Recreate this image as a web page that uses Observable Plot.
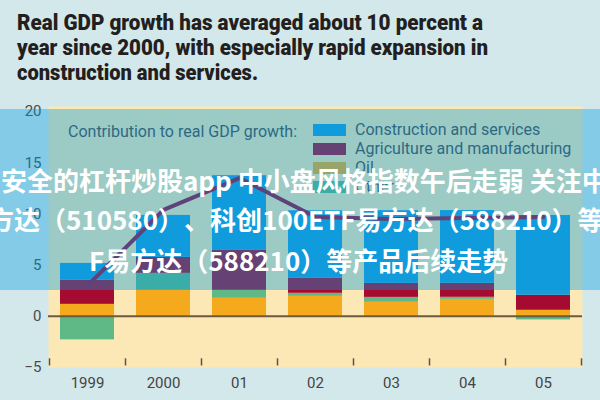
<!DOCTYPE html>
<html><head><meta charset="utf-8">
<script src="https://cdn.jsdelivr.net/npm/d3@7"></script>
<script src="https://cdn.jsdelivr.net/npm/@observablehq/plot@0.6"></script>
<style>
body{margin:0;}
#wrap{position:relative;width:600px;height:400px;background:#d3e8ea;overflow:hidden;font-family:Roboto,"Noto Sans",sans-serif;}
#title{position:absolute;left:17px;top:10px;font-family:Roboto,"Noto Sans",sans-serif;font-weight:900;font-size:21.5px;line-height:25px;color:#231f20;white-space:nowrap;}
#title div{transform-origin:0 50%;width:max-content;}
#chart{position:absolute;left:0;top:0;}
#lg-title{position:absolute;left:68px;top:122px;font-size:16px;color:#4a4a4a;white-space:nowrap;}
.lg{position:absolute;left:313px;font-size:16px;color:#4a4a4a;white-space:nowrap;}
.lg span{display:inline-block;width:33px;height:12px;margin-right:9px;vertical-align:-1px;}
#overlay{position:absolute;left:0;top:109px;width:600px;height:181px;background:rgba(0,155,225,0.38);}
.wm{position:absolute;white-space:nowrap;color:#fff;font-family:"Noto Sans CJK SC",sans-serif;font-weight:bold;font-size:26px;line-height:25px;text-spacing-trim:space-all;font-kerning:none;}
</style></head>
<body>
<div id="wrap">
  <div id="title"></div>
  <div id="chart"></div>
  <div id="legend"></div>
  <div id="overlay"></div>
  <div class="wm" style="left:1px;top:167px">安全的杠杆炒股app 中小盘风格指数午后走弱 关注中</div>
  <div class="wm" style="left:-12px;top:206px">方达（510580）、科创100ETF易方达（588210）等</div>
  <div class="wm" style="left:89px;top:247px">F易方达（588210）等产品后续走势</div>
</div>
<script>
const titleLines = ["Real GDP growth has averaged about 10 percent a", "year since 2000, with especially rapid expansion in", "construction and services."];
const years = ["1999","2000","01","02","03","04","05"];
const seriesNames = ["Oil","Other","Agriculture and manufacturing","Construction and services"];
const oil = [1.17, 2.54, 1.76, 1.95, 1.37, 1.66, 0.59];
const other = [-2.3, 1.66, 0.78, 0.3, 0.48, 0.2, -0.35];
const agricultureManufacturing = [2.35, 1.56, 3.9, 1.46, 1.37, 1.37, 1.46];
const constructionServices = [1.65, 4.1, 7.3, 6.6, 7.1, 7.1, 7.8];
const growth = [3.0, 10.4, 13.5, 9.7, 9.5, 9.6, 9.7];
const yTicks = [-5, 0, 5, 10, 15, 20];
const legendTitle = "Contribution to real GDP growth:";
const legendOrder = ["Construction and services","Agriculture and manufacturing","Oil","Other"];
const colors = {"Oil":"#f5aa1e","Other":"#5fb987","Agriculture and manufacturing":"#a50a30","Construction and services":"#1a9cd8"};

// title, condensed to the reference line widths
const titleWidths = [466, 471, 241];
const titleEl = document.getElementById("title");
titleLines.forEach((txt, i) => {
  const d = document.createElement("div");
  d.textContent = txt;
  titleEl.appendChild(d);
  const w = d.getBoundingClientRect().width;
  d.style.transform = `scaleX(${titleWidths[i] / w})`;
});

const seriesValues = [oil, other, agricultureManufacturing, constructionServices];
const table = [];
seriesNames.forEach((s, i) => years.forEach((y, j) => table.push({year: y, series: s, value: seriesValues[i][j]})));
const lineData = years.map((y, j) => ({year: y, value: growth[j]}));

const chart = Plot.plot({
  width: 600, height: 400,
  marginLeft: 48, marginRight: 18, marginTop: 106, marginBottom: 33,
  style: {background: "transparent", fontFamily: "Roboto, 'Noto Sans', sans-serif", color: "#4a4a4a"},
  x: {domain: years, paddingInner: 0.29, paddingOuter: 0.158, axis: null, label: null},
  y: {domain: [-5, 20.5], axis: null, label: null},
  color: {domain: seriesNames, range: seriesNames.map(s => colors[s])},
  marks: [
    Plot.frame({fill: "#fce8b4", stroke: "none"}),
    Plot.barY(table, {x: "year", y: "value", z: "series", fill: "series", order: seriesNames}),
    Plot.ruleY([0], {stroke: "#6b5a3e", strokeWidth: 2}),
    Plot.line(lineData, {x: "year", y: "value", stroke: "#9a0c3a", strokeWidth: 4, strokeLinejoin: "miter"}),
    Plot.ruleX(years, {x: d => d, dx: -38, y1: -4.15, y2: -4.85, stroke: "#555", strokeWidth: 1.5}),
    Plot.ruleX(years.slice(-1), {x: d => d, dx: 38, y1: -4.15, y2: -4.85, stroke: "#555", strokeWidth: 1.5}),
    Plot.axisX({tickSize: 0, tickPadding: 10, fontSize: 15, fill: "#444", label: null}),
    Plot.axisY({ticks: yTicks, tickSize: 0, tickPadding: 7, fontSize: 15, fill: "#4a4a4a", label: null, tickFormat: d => d < 0 ? "\u2212" + Math.abs(d) : String(d)})
  ]
});
document.getElementById("chart").appendChild(chart);

const lg = document.getElementById("legend");
const t = document.createElement("div");
t.id = "lg-title"; t.textContent = legendTitle; lg.appendChild(t);
legendOrder.forEach((s, i) => {
  const d = document.createElement("div");
  d.className = "lg";
  d.style.top = (120 + i * 19) + "px";
  const sw = document.createElement("span");
  sw.style.background = colors[s];
  d.appendChild(sw);
  d.appendChild(document.createTextNode(s));
  lg.appendChild(d);
});
</script>
</body></html>
